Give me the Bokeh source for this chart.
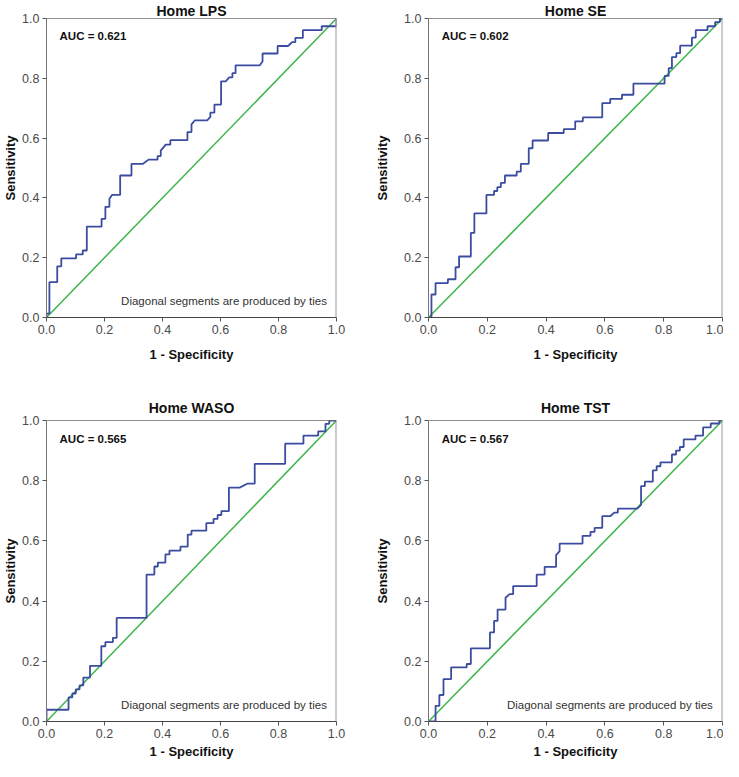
from bokeh.plotting import figure
from bokeh.layouts import gridplot
from bokeh.models import Range1d, Label, Span, NumeralTickFormatter, FixedTicker
from bokeh.embed import file_html
from bokeh.resources import INLINE

# ---------------- data (ROC step-path vertices) ----------------
ticks = [0.0, 0.2, 0.4, 0.6, 0.8, 1.0]
titles = ["Home LPS", "Home SE", "Home WASO", "Home TST"]
aucs = ["AUC = 0.621", "AUC = 0.602", "AUC = 0.565", "AUC = 0.567"]
show_note = [True, False, True, True]
note_text = "Diagonal segments are produced by ties"
x_label = "1 - Specificity"
y_label = "Sensitivity"
ref_x = [0.0, 1.0]
ref_y = [0.0, 1.0]

lps_fpr = [0, 0, 0.01, 0.01, 0.037, 0.037, 0.051, 0.051, 0.102, 0.102, 0.125, 0.125, 0.139, 0.139,
           0.19, 0.19, 0.203, 0.203, 0.217, 0.217, 0.226, 0.254, 0.254, 0.293, 0.293, 0.333, 0.352,
           0.383, 0.383, 0.394, 0.394, 0.411, 0.427, 0.427, 0.486, 0.486, 0.5, 0.5, 0.511, 0.554,
           0.565, 0.565, 0.579, 0.579, 0.602, 0.602, 0.618, 0.63, 0.641, 0.641, 0.652, 0.652, 0.735,
           0.745, 0.745, 0.797, 0.797, 0.833, 0.847, 0.858, 0.858, 0.884, 0.884, 0.949, 0.949, 1.0, 1.0]
lps_tpr = [0, 0.013, 0.013, 0.118, 0.118, 0.171, 0.171, 0.198, 0.198, 0.211, 0.211, 0.224, 0.224, 0.304,
           0.304, 0.33, 0.33, 0.37, 0.37, 0.397, 0.41, 0.41, 0.475, 0.475, 0.514, 0.514, 0.528,
           0.528, 0.54, 0.54, 0.558, 0.578, 0.578, 0.593, 0.593, 0.62, 0.62, 0.646, 0.659, 0.659,
           0.671, 0.685, 0.685, 0.712, 0.712, 0.79, 0.79, 0.803, 0.803, 0.817, 0.817, 0.843, 0.843,
           0.856, 0.883, 0.883, 0.908, 0.908, 0.921, 0.921, 0.935, 0.935, 0.961, 0.961, 0.974, 0.974, 1.0]

se_fpr = [0, 0.01, 0.01, 0.024, 0.024, 0.066, 0.066, 0.092, 0.092, 0.104, 0.104, 0.144, 0.144, 0.156,
          0.156, 0.197, 0.197, 0.223, 0.223, 0.234, 0.234, 0.246, 0.246, 0.26, 0.26, 0.3, 0.3, 0.314,
          0.314, 0.341, 0.341, 0.354, 0.354, 0.407, 0.407, 0.46, 0.46, 0.499, 0.499, 0.525, 0.525, 0.591,
          0.591, 0.618, 0.618, 0.658, 0.658, 0.697, 0.697, 0.803, 0.803, 0.817, 0.817, 0.828, 0.828,
          0.843, 0.843, 0.856, 0.856, 0.896, 0.896, 0.909, 0.909, 0.949, 0.949, 0.975, 0.975, 0.991,
          0.991, 1.0]
se_tpr = [0, 0, 0.077, 0.077, 0.115, 0.115, 0.128, 0.128, 0.168, 0.168, 0.204, 0.204, 0.283, 0.283,
          0.348, 0.348, 0.41, 0.41, 0.423, 0.423, 0.436, 0.436, 0.45, 0.45, 0.475, 0.475, 0.488, 0.488,
          0.514, 0.514, 0.566, 0.566, 0.592, 0.592, 0.617, 0.617, 0.63, 0.63, 0.656, 0.656, 0.669, 0.669,
          0.717, 0.717, 0.731, 0.731, 0.745, 0.745, 0.782, 0.782, 0.808, 0.808, 0.834, 0.834, 0.871,
          0.871, 0.884, 0.884, 0.909, 0.909, 0.936, 0.936, 0.961, 0.961, 0.974, 0.974, 0.988, 0.988,
          1.0, 1.0]

waso_fpr = [0, 0, 0.076, 0.076, 0.089, 0.089, 0.101, 0.101, 0.114, 0.114, 0.127, 0.127, 0.15, 0.15,
            0.189, 0.189, 0.203, 0.203, 0.229, 0.229, 0.242, 0.242, 0.345, 0.345, 0.372, 0.372, 0.384,
            0.384, 0.41, 0.41, 0.424, 0.424, 0.462, 0.462, 0.487, 0.487, 0.5, 0.5, 0.551, 0.551, 0.576,
            0.576, 0.59, 0.59, 0.603, 0.603, 0.629, 0.629, 0.666, 0.692, 0.718, 0.718, 0.823, 0.823,
            0.886, 0.886, 0.937, 0.937, 0.962, 0.962, 0.975, 0.975, 1.0]
waso_tpr = [0, 0.039, 0.039, 0.08, 0.08, 0.093, 0.093, 0.107, 0.107, 0.12, 0.12, 0.146, 0.146, 0.185,
            0.185, 0.25, 0.25, 0.264, 0.264, 0.278, 0.278, 0.344, 0.344, 0.488, 0.488, 0.515, 0.515,
            0.528, 0.528, 0.555, 0.555, 0.568, 0.568, 0.581, 0.581, 0.621, 0.621, 0.634, 0.634, 0.659,
            0.659, 0.673, 0.673, 0.686, 0.686, 0.699, 0.699, 0.777, 0.777, 0.79, 0.79, 0.856, 0.856,
            0.923, 0.923, 0.95, 0.95, 0.964, 0.964, 0.989, 0.989, 1.0, 1.0]

tst_fpr = [0, 0.024, 0.024, 0.037, 0.037, 0.051, 0.051, 0.077, 0.077, 0.13, 0.13, 0.144, 0.144, 0.209,
           0.209, 0.223, 0.223, 0.235, 0.235, 0.262, 0.262, 0.276, 0.288, 0.288, 0.368, 0.368, 0.395,
           0.395, 0.434, 0.434, 0.446, 0.446, 0.524, 0.524, 0.551, 0.551, 0.565, 0.565, 0.591, 0.591,
           0.618, 0.632, 0.644, 0.644, 0.71, 0.723, 0.723, 0.736, 0.736, 0.763, 0.763, 0.776, 0.776,
           0.789, 0.789, 0.828, 0.828, 0.842, 0.842, 0.855, 0.855, 0.868, 0.868, 0.908, 0.908, 0.934,
           0.934, 0.96, 0.96, 0.989, 0.989, 1.0]
tst_tpr = [0, 0, 0.052, 0.052, 0.088, 0.088, 0.141, 0.141, 0.18, 0.18, 0.191, 0.191, 0.243, 0.243,
           0.296, 0.296, 0.334, 0.334, 0.372, 0.372, 0.411, 0.423, 0.423, 0.45, 0.45, 0.488, 0.488,
           0.514, 0.514, 0.553, 0.566, 0.591, 0.591, 0.617, 0.617, 0.63, 0.63, 0.643, 0.643, 0.682,
           0.682, 0.694, 0.694, 0.707, 0.707, 0.72, 0.782, 0.782, 0.797, 0.797, 0.834, 0.834, 0.848,
           0.848, 0.861, 0.861, 0.887, 0.887, 0.9, 0.9, 0.912, 0.912, 0.937, 0.937, 0.95, 0.95, 0.977,
           0.977, 0.99, 0.99, 1.0, 1.0]

curves = [(lps_fpr, lps_tpr), (se_fpr, se_tpr), (waso_fpr, waso_tpr), (tst_fpr, tst_tpr)]

# ---------------- styling ----------------
CURVE = "#3B4CA0"
DIAG = "#3DB54A"
SANS = "Liberation Sans"


def make_panel(i, left, top):
    width = 369 if left else 354
    height = 382 if top else 379
    p = figure(width=width, height=height, output_backend="svg", toolbar_location=None,
               x_range=Range1d(0, 1), y_range=Range1d(0, 1), tools="")
    p.min_border_left = 41 if left else 59
    p.min_border_right = 33 if left else 1
    p.min_border_top = 15 if top else 38
    p.min_border_bottom = 65 if top else 39
    p.background_fill_color = "white"
    p.border_fill_color = "white"
    p.outline_line_color = None
    p.xgrid.grid_line_color = None
    p.ygrid.grid_line_color = None

    # title
    p.title.text = titles[i]
    p.title.align = "center"
    p.title.text_font = SANS
    p.title.text_font_style = "bold"
    p.title.text_font_size = "14px"
    p.title.text_color = "#111111"
    p.title.standoff = 0 if top else 9

    for ax in (p.xaxis[0], p.yaxis[0]):
        ax.ticker = FixedTicker(ticks=ticks)
        ax.formatter = NumeralTickFormatter(format="0.0")
        ax.minor_tick_line_color = None
        ax.major_tick_in = 0
        ax.major_tick_out = 4
        ax.major_label_standoff = 3
        ax.major_label_text_font = SANS
        ax.major_label_text_font_size = "12.5px"
        ax.major_label_text_color = "#4a4a4a"
        ax.major_tick_line_color = "#555555"
        ax.axis_label_text_font = SANS
        ax.axis_label_text_font_style = "bold"
        ax.axis_label_text_font_size = "13px"
        ax.axis_label_text_color = "#111111"
    p.xaxis.axis_line_color = "#444444"
    p.yaxis.axis_line_color = "#777777"
    p.xaxis.axis_label = x_label
    p.yaxis.axis_label = y_label
    p.xaxis.axis_label_standoff = 10 if top else 3
    p.yaxis.axis_label_standoff = 1 if left else 11

    # frame top and right edges
    p.add_layout(Span(location=1.0, dimension="width", line_color="#222222", line_width=1))
    p.add_layout(Span(location=1.0, dimension="height", line_color="#999999", line_width=2))

    fpr, tpr = curves[i]
    p.line(ref_x, ref_y, line_color=DIAG, line_width=1.5)
    p.line(fpr, tpr, line_color=CURVE, line_width=1.8)

    p.add_layout(Label(x=0.045, y=0.94, text=aucs[i], text_align="left", text_baseline="middle",
                       text_font=SANS, text_font_style="bold", text_font_size="11.5px",
                       text_color="#111111"))
    if show_note[i]:
        p.add_layout(Label(x=0.967, y=0.055, text=note_text, text_align="right",
                           text_baseline="middle", text_font=SANS, text_font_size="11.5px",
                           text_color="#333333"))
    return p


p1 = make_panel(0, True, True)
p2 = make_panel(1, False, True)
p3 = make_panel(2, True, False)
p4 = make_panel(3, False, False)

p = gridplot([[p1, p2], [p3, p4]], toolbar_location=None)

open("out.html", "w").write(file_html(p, INLINE))
